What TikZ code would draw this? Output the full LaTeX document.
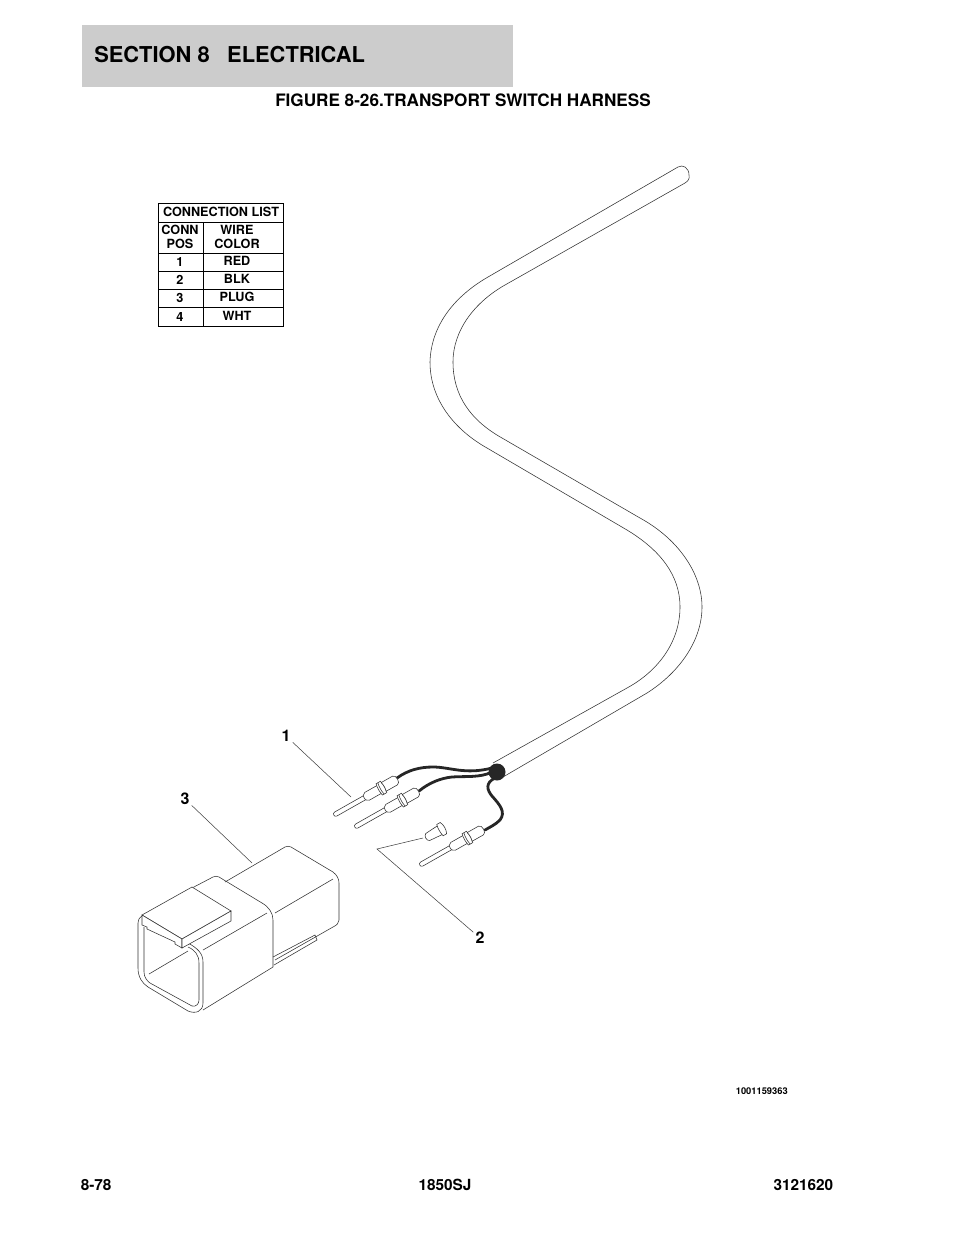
\documentclass[tikz,border=0pt]{standalone}
\usepackage{fontspec}
\setmainfont{TeX Gyre Heros}
\definecolor{headgray}{HTML}{CCCCCC}
\tikzset{
  part/.style={line width=0.42pt,color=black!80},
  wire/.style={line width=2.1pt,color=black!85,line cap=round},
  leader/.style={line width=0.4pt,color=black!75},
  tablabel/.style={font=\fontsize{9.5}{10.5}\selectfont\bfseries,inner sep=0pt,align=center},
  callout/.style={font=\fontsize{12}{13}\selectfont\bfseries,inner sep=1.5pt},
  footer/.style={font=\fontsize{11.5}{13}\selectfont\bfseries,inner sep=0pt}
}
\begin{document}
\begin{tikzpicture}[x=0.75pt,y=-0.75pt]
    \useasboundingbox (0,0) rectangle (954,1235);

    % heading
    \fill[headgray] (82,25) rectangle (513,87);
    \node[anchor=west,inner sep=0pt,font=\fontsize{16.4}{20}\selectfont\bfseries] (section) at (94,55) {SECTION 8\hspace{0.8em}ELECTRICAL};
    \node[inner sep=0pt,font=\fontsize{12.85}{14}\selectfont\bfseries] (figtitle) at (463,100) {FIGURE 8-26.TRANSPORT SWITCH HARNESS};

    % connection list
    \draw[line width=0.6pt] (158,203) rectangle (283.5,326);
    \draw[line width=0.6pt] (203,222) -- (203,326);
    \foreach \y in {222,253,271,289,307.5}
    \draw[line width=0.6pt] (158,\y) -- (283.5,\y);
    \node[tablabel] (listhead) at (221,212) {CONNECTION LIST};
    \node[tablabel] (connhead) at (180,237) {CONN\\POS};
    \node[tablabel] (wirehead) at (237,237) {WIRE\\COLOR};
    \foreach \i/\c/\yp/\yc in {1/RED/262/261,2/BLK/280/279,3/PLUG/298/297,4/WHT/317/316}{
      \node[tablabel] (pos\i) at (180,\yp) {\i};
      \node[tablabel] (color\i) at (237,\yc) {\c};
    }

    % tube
    \draw[part] (493,763) -- (627,688) .. controls (660,670) and (680,640) .. (680,607)
    .. controls (680,575) and (660,550) .. (627,530) -- (487,448)
    .. controls (455,430) and (430,400) .. (430,362)
    .. controls (431,325) and (455,296) .. (488,277) -- (678,167)
    .. controls (683,164) and (689,168) .. (689,175)
    .. controls (690,179) and (688,181) .. (685,183) -- (505,285)
    .. controls (475,302) and (453,330) .. (453,362)
    .. controls (453,395) and (470,420) .. (502,438) -- (640,518)
    .. controls (680,540) and (702,575) .. (702,607)
    .. controls (702,640) and (680,672) .. (647,693) -- (503,777);

    % wires
    \draw[wire] (397,778) .. controls (408,770) and (420,767) .. (433,767)
    .. controls (450,767) and (465,775) .. (492,768);
    \draw[wire] (419,791) .. controls (430,782) and (442,778) .. (452,777)
    .. controls (465,776) and (480,778) .. (492,772);
    \draw[wire] (495,778) .. controls (485,783) and (487,790) .. (492,796)
    .. controls (500,805) and (506,812) .. (500,820) .. controls (495,825) and (490,827) .. (485,830);
    \fill[black!85] (497,772) circle (8.5);

    % contacts
    \foreach \xp/\yp in {334/815,355/827,420/865}{
      \begin{scope}[shift={(\xp,\yp)},rotate=29.5]
        \draw[part,fill=white] (35,-2.3) -- (2,-2.3) .. controls (-1,-2.3) and (-1,2.3) .. (2,2.3) -- (35,2.3);
        \draw[part,fill=white] (35,-2.5) -- (38,-4.5) -- (52,-4.5) -- (52,4.5) -- (38,4.5) -- (35,2.5) .. controls (34.5,1) and (34.5,-1) .. (35,-2.5);
        \draw[part,fill=white] (52,-6.5) .. controls (51,-3) and (51,3) .. (52,6.5) -- (57,6.5) .. controls (58,3) and (58,-3) .. (57,-6.5) -- cycle;
        \draw[part,fill=white] (57,-5) -- (70,-5) .. controls (74,-5) and (74,5) .. (70,5) -- (57,5) .. controls (58,3) and (58,-3) .. (57,-5);
        \draw[part] (54,-6.5) .. controls (53,-3) and (53,3) .. (54,6.5);
      \end{scope}
    }

    % plug
    \begin{scope}[shift={(426,838)},rotate=29.5]
      \draw[part,fill=white] (2,-4) -- (16,-5) -- (16,5) -- (2,4) .. controls (-1,3) and (-1,-3) .. (2,-4);
      \draw[part,fill=white] (16,-6.5) .. controls (15,-3) and (15,3) .. (16,6.5) -- (20,6.5) .. controls (22,3) and (22,-3) .. (20,-6.5) -- cycle;
    \end{scope}

    % connector body
    \draw[part] (192,888) -- (213,877) .. controls (215,876) and (217,876) .. (219,877)
    -- (262,903) .. controls (269,907) and (273,913) .. (273,920) -- (273,967) -- (203,1010);
    \draw[part] (225,882) -- (285,847) .. controls (287,846) and (289,846) .. (291,847)
    -- (333,872) .. controls (337,875) and (339,879) .. (339,883) -- (339,920)
    .. controls (339,923) and (337,925) .. (333,927) -- (275,960);
    \draw[part] (333,879) -- (275,913);
    \draw[part] (203,950) -- (267,913);
    \draw[part] (149,974) -- (188,951);
    \draw[part] (273,957) -- (315,935) -- (317,940) -- (274,965);

    % connector front
    \draw[part] (142,916) .. controls (139,918) and (138,920) .. (138,923) -- (138,968)
    .. controls (138,977) and (142,983) .. (148,987) -- (188,1011)
    .. controls (195,1014) and (203,1012) .. (203,1003) -- (203,962)
    .. controls (203,953) and (197,948) .. (188,943);
    \draw[part] (144,927) -- (144,972) .. controls (144,977) and (147,981) .. (150,983)
    -- (192,1006) .. controls (196,1007) and (199,1004) .. (199,1000) -- (199,963)
    .. controls (199,955) and (195,950) .. (188,947);

    % latch
    \draw[part,fill=white] (142,915) -- (192,887) -- (231,911) -- (182,939) -- cycle;
    \draw[part,fill=white] (142,915) -- (142,925) -- (147,927) -- (147,929) -- (175,942) -- (175,944) -- (182,948) -- (182,939) -- cycle;
    \draw[part,fill=white] (182,939) -- (182,948) -- (231,921) -- (231,911) -- cycle;

    % callouts
    \node[callout] (num1) at (286,736) {1};
    \node[callout] (num2) at (480,938) {2};
    \node[callout] (num3) at (185,799) {3};
    \coordinate (tip1) at (351,797);
    \coordinate (tip3) at (252,863);
    \coordinate (elbow2) at (377,849);
    \coordinate (tip2) at (423,838);
    \draw[leader] (num1) -- (tip1);
    \draw[leader] (num3) -- (tip3);
    \draw[leader] (num2) -- (elbow2) -- (tip2);

    % footer
    \node[inner sep=0pt,anchor=east,font=\fontsize{7}{8}\selectfont\bfseries] (drawno) at (788,1091) {1001159363};
    \node[footer,anchor=west] (pageno) at (80.5,1185) {8-78};
    \node[footer] (model) at (445,1185) {1850SJ};
    \node[footer,anchor=east] (manual) at (833.5,1185) {3121620};
\end{tikzpicture}
\end{document}
